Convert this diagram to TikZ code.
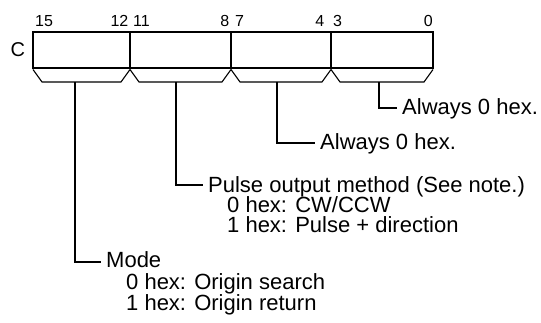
\documentclass[tikz,border=0pt]{standalone}
\usepackage{fontspec}
\setmainfont{Liberation Sans}
\begin{document}
\begin{tikzpicture}[x=1pt,y=-1pt,
  line/.style={line width=1.1pt,line join=miter},
  bitlbl/.style={font=\fontsize{16}{16}\selectfont,inner sep=0pt},
  desc/.style={font=\fontsize{22}{21}\selectfont,inner sep=0pt,anchor=base west}]
\useasboundingbox (0,0) rectangle (541,323);
% register box
\coordinate (tl) at (33,32);
\coordinate (br) at (433,68);
\draw[line] (tl) rectangle (br);
\foreach \xx/\nm in {130/d1,231/d2,331/d3}{
  \coordinate (\nm t) at (\xx,32);
  \coordinate (\nm b) at (\xx,69.5);
  \draw[line] (\nm t) -- (\nm b);
}
% brackets
\foreach \xl/\xr/\nm in {33/130/b1,130/231/b2,231/331/b3,331/433/b4}{
  \coordinate (\nm a) at (\xl,69.5);
  \coordinate (\nm b) at (\xl+9,82);
  \coordinate (\nm c) at (\xr-9,82);
  \coordinate (\nm d) at (\xr,69.5);
  \draw[line] (\nm a) -- (\nm b) -- (\nm c) -- (\nm d);
}
\coordinate (ol) at (33,68);
\coordinate (or) at (433,68);
\draw[line] (ol) -- (b1a);
\draw[line] (or) -- (b4d);
% bit labels
\node[bitlbl,anchor=base west] (n15) at (35,27) {15};
\node[bitlbl,anchor=base east] (n12) at (128.5,27) {12};
\node[bitlbl,anchor=base west] (n11) at (133,27) {11};
\node[bitlbl,anchor=base east] (n8) at (229.5,27) {8};
\node[bitlbl,anchor=base west] (n7) at (235,27) {7};
\node[bitlbl,anchor=base east] (n4) at (324.5,27) {4};
\node[bitlbl,anchor=base west] (n3) at (333,27) {3};
\node[bitlbl,anchor=base east] (n0) at (433,27) {0};
\node[font=\fontsize{20}{20}\selectfont,inner sep=0pt,anchor=base west] (C) at (10.5,57) {C};
% stems
\coordinate (s4) at (379,82);
\coordinate (e4) at (397,108);
\draw[line] (s4) |- (e4);
\node[desc] (t4) at (402,115) {Always 0 hex.};
\coordinate (s3) at (277,82);
\coordinate (e3) at (315,143);
\draw[line] (s3) |- (e3);
\node[desc] (t3) at (320,150) {Always 0 hex.};
\coordinate (s2) at (176,82);
\coordinate (e2) at (203,185);
\draw[line] (s2) |- (e2);
\node[desc] (t2) at (208,193) {Pulse output method (See note.)};
\node[desc] (t2a) at (227,213) {0 hex: CW/CCW};
\node[desc] (t2b) at (227,233) {1 hex: Pulse + direction};
\coordinate (s1) at (75,82);
\coordinate (e1) at (101,262);
\draw[line] (s1) |- (e1);
\node[desc] (t1) at (106,268) {Mode};
\node[desc] (t1a) at (126,290) {0 hex: Origin search};
\node[desc] (t1b) at (126,310) {1 hex: Origin return};
\end{tikzpicture}
\end{document}
